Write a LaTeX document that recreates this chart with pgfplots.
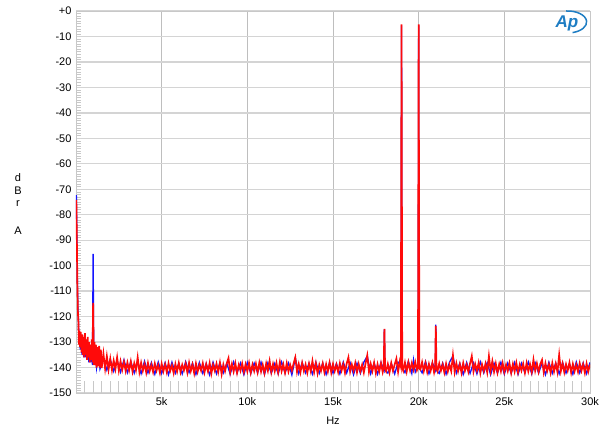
\documentclass[border=0pt]{standalone}
\usepackage{fontspec}
\setmainfont{Liberation Sans}
\usepackage{pgfplots}
\pgfplotsset{compat=1.18}
\definecolor{hgrid}{RGB}{212,212,212}
\definecolor{vgrid}{RGB}{190,190,190}
\definecolor{tickgray}{RGB}{200,200,200}
\definecolor{apblue}{RGB}{30,125,195}
\definecolor{tblue}{RGB}{20,20,255}
\definecolor{tred}{RGB}{255,10,10}
\begin{document}
\begin{tikzpicture}
\useasboundingbox (0,0) rectangle (600pt,439pt);
\begin{axis}[
    at={(76pt,46pt)}, anchor=south west,
    scale only axis, width=514pt, height=382pt,
    xmin=0, xmax=30, ymin=-150, ymax=0,
    xtick={5,10,15,20,25,30},
    xticklabels={5k,10k,15k,20k,25k,30k},
    ytick={-150,-140,-130,-120,-110,-100,-90,-80,-70,-60,-50,-40,-30,-20,-10,0},
    yticklabels={-150,-140,-130,-120,-110,-100,-90,-80,-70,-60,-50,-40,-30,-20,-10,+0},
    tick label style={font=\fontsize{11}{13}\selectfont},
    xticklabel style={yshift=-1pt},
    yticklabel style={xshift=-1pt},
    major tick length=0pt,
    minor y tick num=9,
    minor tick length=5pt,
    tick align=inside,
    tick pos=left,
    minor tick style={tickgray, line width=0.6pt},
    extra x ticks={0.5,1,1.5,2,2.5,3,3.5,4,4.5,5.5,6,6.5,7,7.5,8,8.5,9,9.5,10.5,11,11.5,12,12.5,13,13.5,14,14.5,15.5,16,16.5,17,17.5,18,18.5,19,19.5,20.5,21,21.5,22,22.5,23,23.5,24,24.5,25.5,26,26.5,27,27.5,28,28.5,29,29.5},
    extra x tick labels={},
    extra x tick style={grid=none, major tick length=12pt, tick style={tickgray, line width=0.8pt}},
    xmajorgrids, ymajorgrids,
    x grid style={vgrid, line width=0.8pt},
    y grid style={hgrid, line width=1.3pt},
    axis line style={tickgray, line width=0.8pt},
    clip=true,
]
% blue channel
\addplot[tblue, line width=1.3pt] coordinates {
(0.02,-72.3)(0.05,-88)(0.08,-106)(0.11,-117)(0.14,-121)(0.17,-130)(0.2,-127)(0.25,-133)(0.3,-128)(0.35,-135)
(0.4,-129)(0.45,-136)(0.5,-129)(0.55,-136)(0.6,-131)(0.65,-137)(0.7,-130)(0.75,-138)(0.8,-133)(0.85,-138)
(0.9,-132)(0.96,-139)(1.0,-95.4)(1.04,-139)(1.1,-133)(1.2,-140)(1.3,-134)
(1.4,-140.5)(1.6,-136.2)(1.8,-141.0)(2.0,-136.8)(2.2,-141.5)(2.4,-137.2)(2.6,-141.8)(2.8,-137.0)(3.0,-142.0)
(3.2,-137.6)(3.4,-142.2)(3.6,-137.9)(3.8,-142.4)(4.0,-137.5)(4.2,-142.1)(4.4,-138.0)(4.6,-142.6)(4.8,-137.8)(5.0,-142.3)
(5.2,-138.1)(5.4,-142.8)(5.6,-137.9)(5.8,-142.2)(6.0,-138.3)(6.2,-142.5)(6.4,-137.7)(6.6,-142.0)(6.8,-138.2)(7.0,-142.7)
(7.2,-138.0)(7.4,-142.3)(7.6,-138.4)(7.8,-142.9)(8.0,-137.9)(8.2,-142.4)(8.4,-138.1)(8.6,-142.1)(8.8,-138.3)(9.0,-142.6)
(9.2,-137.8)(9.4,-142.2)(9.6,-138.2)(9.8,-142.8)(10.0,-138.0)(10.2,-142.4)(10.4,-138.3)(10.6,-142.1)(10.8,-137.9)(11.0,-142.7)
(11.2,-138.1)(11.4,-142.3)(11.6,-138.4)(11.8,-142.5)(12.0,-137.8)(12.2,-142.2)(12.4,-138.2)(12.6,-142.9)(12.8,-136.3)(13.0,-142.4)
(13.2,-138.0)(13.4,-142.1)(13.6,-138.3)(13.8,-142.6)(14.0,-137.9)(14.2,-142.3)(14.4,-138.2)(14.6,-142.7)(14.8,-138.0)(15.0,-142.2)
(15.2,-138.4)(15.4,-142.5)(15.6,-137.8)(15.8,-142.1)(16.0,-138.1)(16.2,-142.8)(16.4,-138.3)(16.6,-142.3)(16.8,-137.9)(17.0,-135.5)
(17.2,-142.4)(17.4,-138.2)(17.6,-142.6)(17.8,-138.0)(17.97,-141.0)(18.0,-125.0)(18.03,-141.0)(18.2,-142.2)(18.4,-138.3)(18.6,-142.5)
(18.8,-137.9)(18.97,-139.0)(19.0,-5.6)(19.03,-140.0)(19.2,-142.0)(19.4,-137.5)(19.6,-142.3)(19.7,-137.0)(19.8,-141.8)(19.97,-139.5)
(20.0,-5.6)(20.03,-140.2)(20.2,-142.1)(20.4,-137.6)(20.6,-142.4)(20.8,-138.1)(20.97,-141.0)(21.0,-123.2)(21.03,-141.0)(21.2,-142.3)
(21.4,-138.2)(21.6,-142.6)(21.8,-137.9)(22.0,-135.5)(22.2,-142.2)(22.4,-138.3)(22.6,-142.7)(22.8,-138.0)(23.0,-142.3)(23.2,-138.2)
(23.4,-142.5)(23.6,-137.8)(23.8,-142.1)(24.0,-138.1)(24.2,-142.8)(24.4,-138.3)(24.6,-142.2)(24.8,-137.9)(25.0,-142.6)(25.2,-138.2)
(25.4,-142.3)(25.6,-138.0)(25.8,-142.7)(26.0,-138.3)(26.2,-142.1)(26.4,-137.8)(26.6,-142.5)(26.8,-138.1)(27.0,-142.2)(27.2,-138.3)
(27.4,-142.8)(27.6,-137.9)(27.8,-142.3)(28.0,-138.2)(28.2,-142.5)(28.4,-138.0)(28.6,-142.2)(28.8,-138.4)(29.0,-142.6)(29.2,-137.8)
(29.4,-142.1)(29.6,-138.2)(29.8,-142.4)(30.0,-138.0)
};
% red channel
\addplot[tred, line width=1.7pt] coordinates {
(0.02,-74.2)(0.05,-90)(0.08,-108)(0.11,-118)(0.14,-122)(0.17,-131)(0.2,-125.5)(0.24,-132)(0.28,-126)(0.32,-134)
(0.36,-127)(0.4,-135)(0.44,-128)(0.48,-136)(0.52,-126.5)(0.56,-135)(0.6,-129)(0.64,-137)(0.68,-128)(0.72,-136)
(0.76,-130)(0.8,-138)(0.84,-131)(0.88,-137)(0.92,-129)(0.96,-138)(1.0,-114.6)(1.04,-139)(1.08,-130)(1.12,-139)
(1.16,-131)(1.2,-140)(1.25,-132)(1.3,-139.5)(1.35,-131.5)(1.4,-140)(1.45,-133)
(1.5,-140.2)(1.6,-134.5)(1.7,-140.5)(1.8,-135.5)(1.9,-140.8)(2.0,-136.5)(2.1,-141.0)(2.2,-137.2)(2.3,-140.6)(2.4,-136.0)
(2.5,-141.2)(2.6,-137.5)(2.7,-140.9)(2.8,-137.8)(2.9,-141.4)(3.0,-138.0)(3.1,-141.1)(3.2,-137.6)(3.3,-141.6)(3.4,-138.3)
(3.5,-141.0)(3.6,-136.0)(3.7,-141.7)(3.8,-138.1)(3.9,-141.3)(4.0,-138.6)(4.1,-142.0)(4.2,-138.2)(4.3,-141.4)(4.4,-138.9)
(4.5,-141.8)(4.6,-138.4)(4.7,-141.2)(4.8,-139.0)(4.9,-142.1)(5.0,-138.5)(5.1,-141.5)(5.2,-138.8)(5.3,-141.9)(5.4,-138.3)
(5.5,-141.3)(5.6,-139.1)(5.7,-142.2)(5.8,-138.6)(5.9,-141.6)(6.0,-138.2)(6.1,-141.8)(6.2,-138.9)(6.3,-141.1)(6.4,-138.5)
(6.5,-142.0)(6.6,-138.1)(6.7,-141.4)(6.8,-138.8)(6.9,-142.3)(7.0,-138.4)(7.1,-141.7)(7.2,-139.0)(7.3,-141.2)(7.4,-138.3)
(7.5,-141.9)(7.6,-138.7)(7.7,-141.5)(7.8,-138.2)(7.9,-142.4)(8.0,-138.9)(8.1,-141.3)(8.2,-138.5)(8.3,-141.8)(8.4,-138.1)
(8.5,-142.6)(8.6,-138.8)(8.7,-141.4)(8.8,-138.4)(8.9,-136.3)(9.0,-141.9)(9.1,-138.6)(9.2,-141.6)(9.3,-138.3)(9.4,-142.1)
(9.5,-138.9)(9.6,-141.3)(9.7,-138.4)(9.8,-141.8)(9.9,-138.7)(10.0,-141.5)(10.1,-138.2)(10.2,-142.0)(10.3,-138.8)(10.4,-141.4)
(10.5,-138.5)(10.6,-141.9)(10.7,-138.1)(10.8,-141.6)(10.9,-138.9)(11.0,-142.2)(11.1,-138.4)(11.2,-141.3)(11.3,-137.4)(11.4,-141.8)
(11.5,-138.6)(11.6,-141.5)(11.7,-138.2)(11.8,-141.9)(11.9,-137.8)(12.0,-141.4)(12.1,-138.7)(12.2,-142.0)(12.3,-138.3)(12.4,-141.6)
(12.5,-138.9)(12.6,-141.2)(12.7,-138.4)(12.8,-136.0)(12.9,-141.7)(13.0,-138.6)(13.1,-141.9)(13.2,-138.2)(13.3,-141.4)(13.4,-138.8)
(13.5,-142.1)(13.6,-138.5)(13.7,-141.5)(13.8,-137.4)(13.9,-141.8)(14.0,-138.3)(14.1,-142.3)(14.2,-138.9)(14.3,-141.3)(14.4,-138.4)
(14.5,-141.9)(14.6,-138.7)(14.7,-141.6)(14.8,-138.1)(14.9,-142.0)(15.0,-138.6)(15.1,-141.4)(15.2,-138.9)(15.3,-141.8)(15.4,-138.3)
(15.5,-141.2)(15.6,-138.7)(15.7,-142.1)(15.8,-138.4)(15.9,-136.0)(16.0,-141.6)(16.1,-138.8)(16.2,-141.3)(16.3,-138.2)(16.4,-141.9)
(16.5,-138.6)(16.6,-141.5)(16.7,-138.9)(16.8,-142.0)(16.9,-138.4)(17.0,-135.2)(17.1,-141.7)(17.2,-138.5)(17.3,-141.4)(17.4,-138.1)
(17.5,-142.2)(17.6,-138.7)(17.7,-141.6)(17.8,-138.3)(17.9,-141.8)(17.96,-140.0)(18.0,-124.8)(18.04,-140.5)(18.1,-141.5)(18.2,-138.6)
(18.3,-141.9)(18.4,-138.2)(18.5,-141.3)(18.6,-138.8)(18.7,-136.5)(18.8,-141.7)(18.9,-137.6)(18.96,-139.5)(19.0,-5.3)(19.04,-140.0)
(19.1,-141.2)(19.2,-138.0)(19.3,-141.6)(19.4,-137.9)(19.5,-141.1)(19.6,-138.2)(19.7,-140.9)(19.8,-137.8)(19.9,-141.0)(19.96,-139.8)
(20.0,-5.3)(20.04,-140.3)(20.1,-140.8)(20.2,-137.9)(20.3,-141.4)(20.4,-138.3)(20.5,-141.8)(20.6,-138.6)(20.7,-141.3)(20.8,-138.2)
(20.9,-141.9)(20.96,-140.0)(21.0,-123.6)(21.04,-140.4)(21.1,-141.5)(21.2,-138.4)(21.3,-141.2)(21.4,-138.8)(21.5,-142.0)(21.6,-138.5)
(21.7,-141.6)(21.8,-138.9)(21.9,-141.4)(22.0,-135.2)(22.1,-141.8)(22.2,-138.3)(22.3,-141.5)(22.4,-138.7)(22.5,-142.1)(22.6,-138.2)
(22.7,-141.3)(22.8,-138.9)(22.9,-141.7)(23.0,-138.4)(23.1,-135.5)(23.2,-141.6)(23.3,-138.6)(23.4,-141.2)(23.5,-138.1)(23.6,-142.2)
(23.7,-138.8)(23.8,-141.4)(23.9,-138.5)(24.0,-141.9)(24.1,-135.5)(24.2,-141.3)(24.3,-137.5)(24.4,-141.7)(24.5,-138.4)(24.6,-142.0)
(24.7,-138.7)(24.8,-141.5)(24.9,-138.2)(25.0,-141.8)(25.1,-138.9)(25.2,-141.4)(25.3,-138.3)(25.4,-142.1)(25.5,-138.6)(25.6,-141.6)
(25.7,-138.1)(25.8,-141.9)(25.9,-138.8)(26.0,-141.2)(26.1,-138.5)(26.2,-142.0)(26.3,-138.2)(26.4,-141.5)(26.5,-138.7)(26.6,-141.8)
(26.7,-136.9)(26.8,-141.3)(26.9,-138.4)(27.0,-141.7)(27.1,-138.6)(27.2,-137.0)(27.3,-141.9)(27.4,-138.3)(27.5,-141.4)(27.6,-138.8)
(27.7,-142.1)(27.8,-138.2)(27.9,-141.6)(28.0,-138.5)(28.1,-141.8)(28.2,-135.0)(28.3,-141.4)(28.4,-138.4)(28.5,-141.9)(28.6,-138.7)
(28.7,-141.2)(28.8,-138.1)(28.9,-142.0)(29.0,-138.6)(29.1,-141.5)(29.2,-138.9)(29.3,-141.7)(29.4,-138.3)(29.5,-141.3)(29.6,-138.7)
(29.7,-142.1)(29.8,-138.4)(29.9,-141.6)(30.0,-138.8)
};
\end{axis}
% vertical stacked unit label and x label
\node[font=\fontsize{11}{13}\selectfont] at (18pt,261pt) {d};
\node[font=\fontsize{11}{13}\selectfont] at (18pt,248pt) {B};
\node[font=\fontsize{11}{13}\selectfont] at (18pt,235pt) {r};
\node[font=\fontsize{11}{13}\selectfont] at (18pt,208pt) {A};
\node[font=\fontsize{11}{13}\selectfont] at (333pt,18pt) {Hz};
% Ap logo
\node[apblue, font=\bfseries\itshape\fontsize{17}{17}\selectfont] at (567pt,416pt) {Ap};
\draw[apblue, line width=1.5pt] (566pt,428pt) arc[start angle=95, end angle=-75, x radius=19pt, y radius=11pt];
\end{tikzpicture}
\end{document}
